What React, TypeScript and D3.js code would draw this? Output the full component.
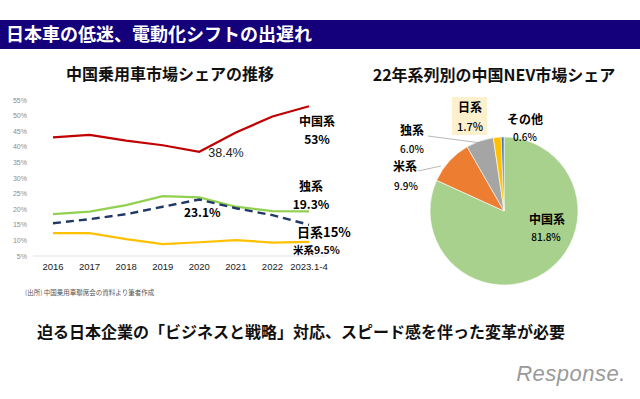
import React from 'react';
import * as d3 from 'd3';

// left chart: 中国乗用車市場シェアの推移 (%)
const years = ['2016', '2017', '2018', '2019', '2020', '2021', '2022', '2023.1-4'];
const chinaShare = [43.0, 43.8, 42.0, 40.5, 38.4, 44.6, 49.7, 53.0];
const germanShare = [18.4, 19.2, 21.3, 24.2, 23.8, 20.8, 19.4, 19.3];
const japanShare = [15.5, 16.8, 18.4, 20.8, 23.1, 20.3, 18.1, 15.0];
const usShare = [12.3, 12.3, 10.4, 8.8, 9.4, 10.1, 9.3, 9.5];
const yTicks = [5, 10, 15, 20, 25, 30, 35, 40, 45, 50, 55];

// right chart: 22年系列別の中国NEV市場シェア (%)
const pieLabels = ['中国系', '米系', '独系', '日系', 'その他'];
const pieValues = [81.8, 9.9, 6.0, 1.7, 0.6];
const pieColors = ['#a9d18e', '#ed7d31', '#a5a5a5', '#ffc000', '#4472c4'];

const JP = '"Noto Sans CJK JP", "Noto Sans", sans-serif';
const ARIAL = '"Liberation Sans", Arial, sans-serif';

const LineChart = () => {
  const x = d3.scalePoint<string>().domain(years).range([53, 309]);
  const y = d3.scaleLinear().domain([5, 55]).range([256, 100]);
  const line = d3.line<number>()
    .x((_, i) => x(years[i]) as number)
    .y(d => y(d));

  const last = years[years.length - 1];
  const lx = (x(last) as number) - 16;

  return (
    <g>
      <text x={170} y={80} textAnchor="middle" fontSize={16} fontWeight="bold" fill="#111">
        中国乗用車市場シェアの推移
      </text>
      {yTicks.map(t => (
        <text key={t} x={27} y={y(t) + 2.5} textAnchor="end" fontSize={7} fill="#8c8c8c" fontFamily={ARIAL}>
          {t}%
        </text>
      ))}
      <line x1={33} x2={326} y1={y(5)} y2={y(5)} stroke="#e3e3e3" strokeWidth={1} />
      {years.map(yr => (
        <text key={yr} x={x(yr)} y={270} textAnchor="middle" fontSize={9.5} fill="#1a1a1a"
          fontFamily={ARIAL}>
          {yr === last ? '2023.1-4' : yr}
        </text>
      ))}
      <path d={line(chinaShare) ?? ''} fill="none" stroke="#c00000" strokeWidth={2.2} />
      <path d={line(germanShare) ?? ''} fill="none" stroke="#92d050" strokeWidth={2.2} />
      <path d={line(usShare) ?? ''} fill="none" stroke="#ffc000" strokeWidth={2.2} />
      <path d={line(japanShare) ?? ''} fill="none" stroke="#1f3864" strokeWidth={2.4}
        strokeDasharray="8,5" />

      <text x={lx + 24} y={126} textAnchor="middle" fontSize={12} fontWeight="bold">中国系</text>
      <text x={lx + 24} y={144} textAnchor="middle" fontSize={12} fontWeight="bold">53%</text>
      <text x={x('2020') as number + 9} y={157} fontSize={12.5} fill="#222" fontFamily={ARIAL}>38.4%</text>
      <text x={lx + 18} y={191} textAnchor="middle" fontSize={12} fontWeight="bold">独系</text>
      <text x={lx + 18} y={209} textAnchor="middle" fontSize={12} fontWeight="bold">19.3%</text>
      <text x={x('2020') as number + 3} y={217} textAnchor="middle" fontSize={12} fontWeight="bold">23.1%</text>
      <text x={lx + 4} y={237} fontSize={13} fontWeight="bold">日系15%</text>
      <text x={lx} y={254} fontSize={10.5} fontWeight="bold">米系9.5%</text>

      <text x={25} y={295} fontSize={6.5} fill="#555">(出所)  中国乗用車聯席会の資料より筆者作成</text>
    </g>
  );
};

const PieChart = () => {
  const cx = 504;
  const cy = 211;
  const r = 74;
  const pie = d3.pie<number>().sort(null).value(d => d);
  const arc = d3.arc<d3.PieArcDatum<number>>().innerRadius(0).outerRadius(r);
  const arcs = pie(pieValues);

  return (
    <g>
      <text x={494} y={81} textAnchor="middle" fontSize={16} fontWeight="bold" fill="#111">
        22年系列別の中国NEV市場シェア
      </text>
      <g transform={`translate(${cx},${cy})`}>
        {arcs.map((a, i) => (
          <path key={pieLabels[i]} d={arc(a) ?? ''} fill={pieColors[i]} stroke="#fff" strokeWidth={0.6} />
        ))}
      </g>
      {/* leader lines */}
      <line x1={428} y1={136} x2={481} y2={143} stroke="#a6a6a6" strokeWidth={0.8} />
      <line x1={418} y1={171} x2={441} y2={166} stroke="#a6a6a6" strokeWidth={0.8} />

      <rect x={452} y={97} width={35} height={38} fill="#fdf0cd" />
      <text x={470} y={112} textAnchor="middle" fontSize={12} fontWeight="bold">{pieLabels[3]}</text>
      <text x={470} y={131} textAnchor="middle" fontSize={11} fontWeight="500">{pieValues[3].toFixed(1)}%</text>

      <text x={525} y={124} textAnchor="middle" fontSize={12} fontWeight="bold">{pieLabels[4]}</text>
      <text x={525} y={141} textAnchor="middle" fontSize={10} fontWeight="500">{pieValues[4].toFixed(1)}%</text>

      <text x={412} y={135} textAnchor="middle" fontSize={12} fontWeight="bold">{pieLabels[2]}</text>
      <text x={412} y={153} textAnchor="middle" fontSize={10} fontWeight="500">{pieValues[2].toFixed(1)}%</text>

      <text x={405} y={171} textAnchor="middle" fontSize={12} fontWeight="bold">{pieLabels[1]}</text>
      <text x={406} y={190} textAnchor="middle" fontSize={10} fontWeight="500">{pieValues[1].toFixed(1)}%</text>

      <text x={547} y={224} textAnchor="middle" fontSize={12} fontWeight="bold">{pieLabels[0]}</text>
      <text x={546} y={241} textAnchor="middle" fontSize={10} fontWeight="500">{pieValues[0].toFixed(1)}%</text>
    </g>
  );
};

export default function App() {
  return (
    <div style={{ position: 'fixed', left: 0, top: 0 }}>
      <svg width={640} height={399} fontFamily={JP} style={{ display: 'block', background: '#fff' }}>
        <rect x={0} y={20} width={640} height={29} fill="#14007a" />
        <text x={6} y={40.5} fontSize={18} fontWeight="bold" fill="#fff">
          日本車の低迷、電動化シフトの出遅れ
        </text>
        <LineChart />
        <PieChart />
        <text x={37} y={337.5} fontSize={16} fontWeight="bold" fill="#111">
          迫る日本企業の「ビジネスと戦略」対応、スピード感を伴った変革が必要
        </text>
        <text x={571} y={381} textAnchor="middle" fontSize={22} fill="#9a9a9a"
          fontFamily={ARIAL} fontStyle="italic" letterSpacing={0.5}>
          Response.
        </text>
      </svg>
    </div>
  );
}
